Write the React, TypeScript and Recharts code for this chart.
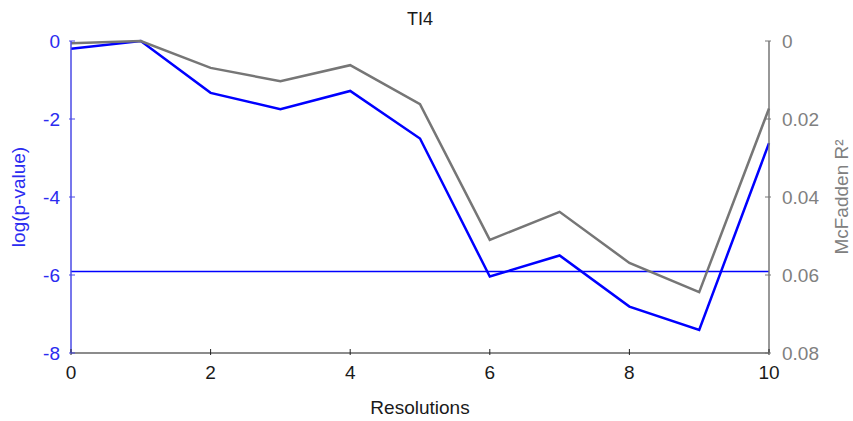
import { Label, Line, LineChart, ReferenceLine, XAxis, YAxis } from "recharts";

const resolutions = [0, 1, 2, 3, 4, 5, 6, 7, 8, 9, 10];
const logPValues = [-0.2, 0, -1.33, -1.75, -1.28, -2.5, -6.04, -5.5, -6.81, -7.41, -2.62];
const mcFaddenR2 = [0.0006, 0, 0.0069, 0.0103, 0.0062, 0.0162, 0.051, 0.0438, 0.0569, 0.0644, 0.0173];
const threshold = -5.91;

const xTicks = [0, 2, 4, 6, 8, 10];
const leftTicks = [0, -2, -4, -6, -8];
const rightTicks = [0, 0.02, 0.04, 0.06, 0.08];

const BLUE = "#0000ff";
const BLUE_AXIS = "#4a4ae6";
const GRAY = "#767676";
const FONT = "'Liberation Sans', Arial, sans-serif";

const data = resolutions.map((r, i) => ({ r, p: logPValues[i], r2: mcFaddenR2[i] }));

function BottomTick({ x, y, payload }: any) {
  return (
    <g>
      <line x1={x} y1={y} x2={x} y2={y - 6} stroke="#222" />
      <text x={x} y={y + 24} textAnchor="middle" fontSize={19} fill="#1a1a1a" fontFamily={FONT}>
        {payload.value}
      </text>
    </g>
  );
}

function TopTick({ x, y }: any) {
  return <line x1={x} y1={y} x2={x} y2={y + 6} stroke="#222" />;
}

function LeftTick({ x, y, payload }: any) {
  return (
    <g>
      <line x1={x} y1={y} x2={x + 6} y2={y} stroke={BLUE_AXIS} />
      <text x={x - 9} y={y + 7} textAnchor="end" fontSize={19} fill="#2b2bf0" fontFamily={FONT}>
        {payload.value}
      </text>
    </g>
  );
}

function RightTick({ x, y, payload }: any) {
  return (
    <g>
      <line x1={x} y1={y} x2={x - 6} y2={y} stroke={GRAY} />
      <text x={x + 11} y={y + 7} textAnchor="start" fontSize={19} fill="#808080" fontFamily={FONT}>
        {payload.value}
      </text>
    </g>
  );
}

export default function App() {
  return (
    <div style={{ position: "absolute", left: 0, top: 0, width: 853, height: 421, background: "#fff" }}>
      <LineChart width={853} height={421} data={data} margin={{ top: 41, right: 0, bottom: 0, left: 0 }}>
        <XAxis
          dataKey="r"
          type="number"
          domain={[0, 10]}
          ticks={xTicks}
          height={68}
          tickSize={0}
          tickLine={false}
          tick={<BottomTick />}
          stroke="#666"
          strokeWidth={1.5}
        >
          <Label value="Resolutions" position="insideBottom" offset={7} fontSize={19} fill="#1a1a1a" fontFamily={FONT} />
        </XAxis>
        <XAxis
          xAxisId="top"
          orientation="top"
          dataKey="r"
          type="number"
          domain={[0, 10]}
          ticks={xTicks}
          height={0}
          tickSize={0}
          tickLine={false}
          tick={<TopTick />}
          stroke="#666"
          strokeWidth={1.5}
        />
        <YAxis
          yAxisId="left"
          domain={[-8, 0]}
          ticks={leftTicks}
          width={71}
          tickSize={0}
          tickLine={false}
          tick={<LeftTick />}
          stroke={BLUE_AXIS}
          strokeWidth={1.5}
        >
          <Label value="log(p-value)" angle={-90} position="insideLeft" offset={18} fontSize={19} fill="#2b2bf0" fontFamily={FONT} style={{ textAnchor: "middle" }} />
        </YAxis>
        <YAxis
          yAxisId="right"
          orientation="right"
          reversed
          domain={[0, 0.08]}
          ticks={rightTicks}
          width={84}
          tickSize={0}
          tickLine={false}
          tick={<RightTick />}
          stroke={GRAY}
          strokeWidth={1.5}
        >
          <Label value="McFadden R²" angle={-90} position="insideRight" offset={12} fontSize={19} fill="#808080" fontFamily={FONT} style={{ textAnchor: "middle" }} />
        </YAxis>
        <ReferenceLine yAxisId="left" y={threshold} stroke={BLUE} strokeWidth={1.6} />
        <Line
          yAxisId="left"
          dataKey="p"
          stroke={BLUE}
          strokeWidth={2.5}
          dot={false}
          isAnimationActive={false}
        />
        <Line
          yAxisId="right"
          dataKey="r2"
          stroke={GRAY}
          strokeWidth={2.5}
          dot={false}
          isAnimationActive={false}
        />
      </LineChart>
      <div
        style={{
          position: "absolute",
          left: 71,
          width: 698,
          top: 8,
          textAlign: "center",
          fontFamily: FONT,
          fontSize: 18,
          color: "#1a1a1a",
          lineHeight: "22px",
        }}
      >
        TI4
      </div>
    </div>
  );
}
